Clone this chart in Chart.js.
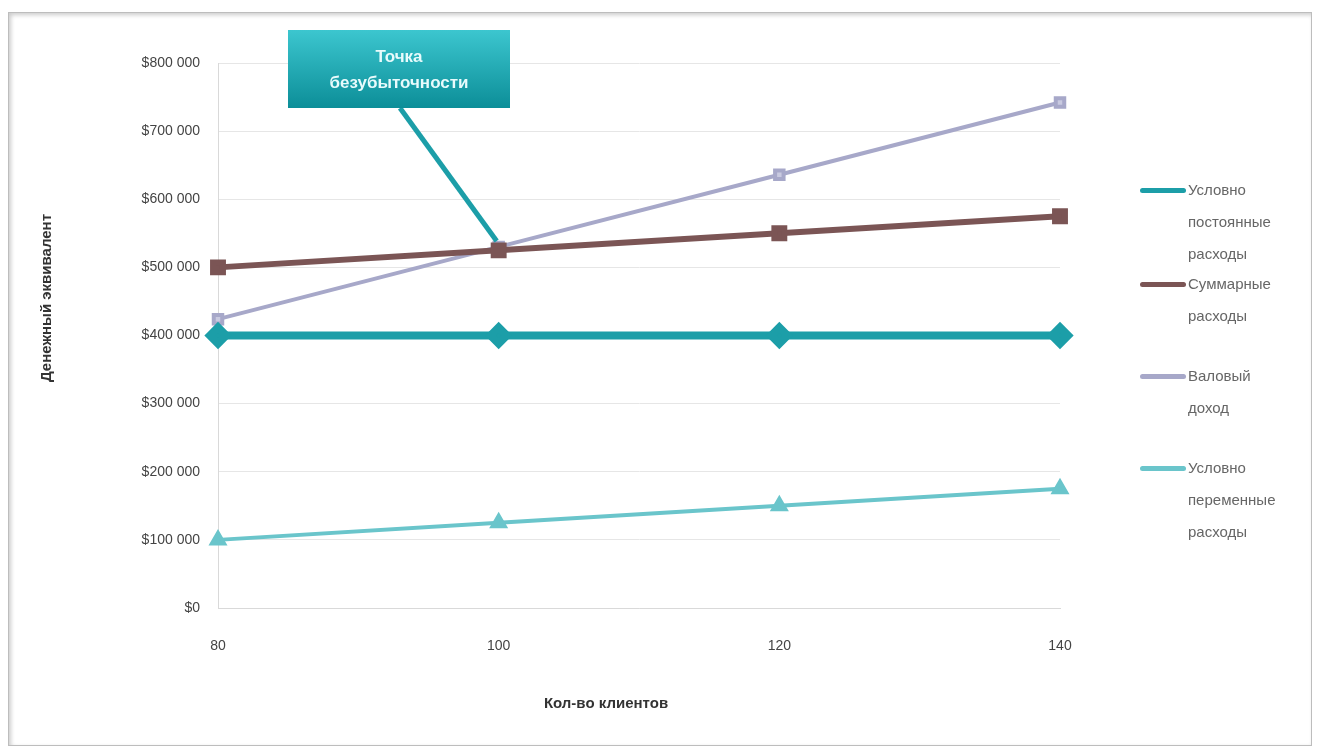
<!DOCTYPE html>
<html>
<head>
<meta charset="utf-8">
<script src="https://cdn.jsdelivr.net/npm/chart.js@4/dist/chart.umd.min.js"></script>
<style>
  body { margin: 0; background: #fff; font-family: "Liberation Sans", Arial, sans-serif; }
  #frame { position: absolute; left: 8px; top: 12px; width: 1302px; height: 732px;
           border: 1px solid #bdbdbd; box-shadow: inset 2px 2px 4px #ccc; }
  #wrap { position: absolute; left: 0; top: 0; width: 1320px; height: 752px; }
  #legend { position: absolute; left: 1140px; top: 174px; width: 170px; font-size: 15px; color: #666; }
  .item { position: relative; padding-left: 48px; line-height: 32px; }
  .swatch { position: absolute; left: 0; top: 14px; width: 46px; height: 5px; border-radius: 3px; }
</style>
</head>
<body>
<div id="frame"></div>
<div id="wrap"><canvas id="breakEven" width="1320" height="752"></canvas></div>
<div id="legend"></div>
<script>
const ctx = document.getElementById('breakEven').getContext('2d');

// data
const clients = ['80', '100', '120', '140'];
const fixedCosts = [400000, 400000, 400000, 400000];
const totalCosts = [500000, 525000, 550000, 575000];
const revenue = [424000, 530000, 636000, 742000];
const variableCosts = [100000, 125000, 150000, 175000];
const seriesNames = [
    ['Условно', 'постоянные', 'расходы'],
    ['Суммарные', 'расходы'],
    ['Валовый', 'доход'],
    ['Условно', 'переменные', 'расходы']
];
const seriesColors = ['#1c9ea8', '#7b5555', '#a7a8c9', '#6ac5cb'];
const legendGaps = [0, -2, 28, 28];
const calloutText = ['Точка', 'безубыточности'];
const xTitle = 'Кол-во клиентов';
const yTitle = 'Денежный эквивалент';

function fmt(v) {
    if (v === 0) return '$0';
    return '$' + String(v).replace(/\B(?=(\d{3})+(?!\d))/g, ' ');
}

// callout box pointing at the break-even point + axis titles
const callout = {
    id: 'callout',
    afterDatasetsDraw(chart) {
        const c = chart.ctx;
        const px = chart.scales.x.getPixelForValue(1);
        const py = chart.scales.y.getPixelForValue(revenue[1]);
        c.save();
        c.strokeStyle = '#1c9ea8';
        c.lineWidth = 5;
        c.beginPath();
        c.moveTo(400, 108);
        c.lineTo(px - 2, py - 6);
        c.stroke();
        const g = c.createLinearGradient(0, 30, 0, 108);
        g.addColorStop(0, '#3cc6cf');
        g.addColorStop(1, '#0c8e98');
        c.fillStyle = g;
        c.fillRect(288, 30, 222, 78);
        c.fillStyle = '#e8fbfc';
        c.font = 'bold 17px "Liberation Sans", Arial';
        c.textAlign = 'center';
        c.textBaseline = 'alphabetic';
        c.fillText(calloutText[0], 399, 62);
        c.fillText(calloutText[1], 399, 88);

        c.fillStyle = '#333';
        c.font = 'bold 15px "Liberation Sans", Arial';
        c.textBaseline = 'middle';
        c.fillText(xTitle, 606, 704);
        c.translate(47, 298);
        c.rotate(-Math.PI / 2);
        c.fillText(yTitle, 0, 0);
        c.restore();
    }
};

const myChart = new Chart(ctx, {
    type: 'line',
    data: {
        labels: clients,
        datasets: [{
            label: seriesNames[0].join(' '),
            data: fixedCosts,
            borderColor: seriesColors[0],
            backgroundColor: seriesColors[0],
            borderWidth: 8,
            pointStyle: 'rectRot',
            pointRadius: 8
        }, {
            label: seriesNames[1].join(' '),
            data: totalCosts,
            borderColor: seriesColors[1],
            backgroundColor: seriesColors[1],
            borderWidth: 6,
            pointStyle: 'rect',
            pointRadius: 7
        }, {
            label: seriesNames[2].join(' '),
            data: revenue,
            borderColor: seriesColors[2],
            backgroundColor: '#c9cae0',
            borderWidth: 4,
            pointStyle: 'rect',
            pointRadius: 6
        }, {
            label: seriesNames[3].join(' '),
            data: variableCosts,
            borderColor: seriesColors[3],
            backgroundColor: seriesColors[3],
            borderWidth: 4,
            pointStyle: 'triangle',
            pointRadius: 7
        }]
    },
    options: {
        responsive: false,
        animation: false,
        layout: { padding: { left: 35, right: 260, top: 63, bottom: 34 } },
        plugins: { legend: { display: false }, tooltip: { enabled: false } },
        scales: {
            x: {
                offset: false,
                grid: { display: false },
                border: { color: '#d9d9d9' },
                ticks: { color: '#444', font: { size: 14 }, padding: 22 },
                afterFit: s => { s.height = 110; }
            },
            y: {
                min: 0,
                max: 800000,
                grid: { color: '#e6e6e6', drawTicks: false },
                border: { color: '#d9d9d9' },
                ticks: { stepSize: 100000, color: '#444', font: { size: 14 }, padding: 18,
                         callback: v => fmt(v) },
                afterFit: s => { s.width = 183; }
            }
        }
    },
    plugins: [callout]
});

// legend to the right, built from the same arrays
const leg = document.getElementById('legend');
seriesNames.forEach((lines, i) => {
    const d = document.createElement('div');
    d.className = 'item';
    d.style.marginTop = legendGaps[i] + 'px';
    d.innerHTML = '<span class="swatch" style="background:' + seriesColors[i] + '"></span>' + lines.join('<br>');
    leg.appendChild(d);
});
</script>
</body>
</html>
